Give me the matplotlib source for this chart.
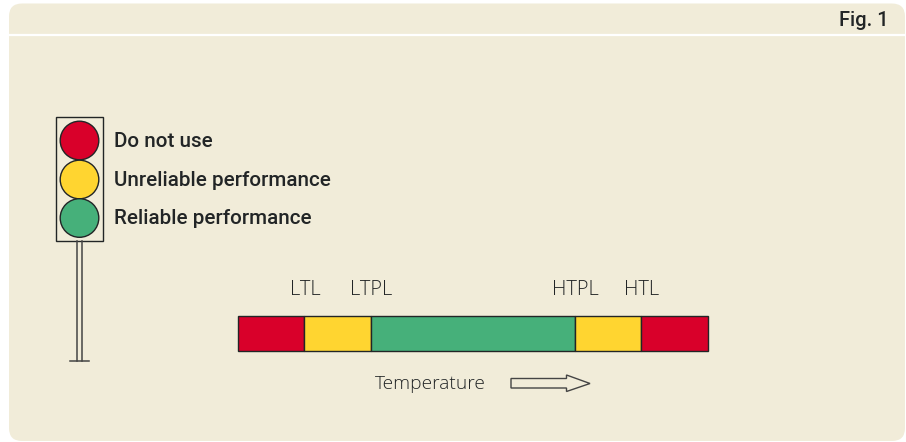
import matplotlib
matplotlib.use("Agg")
import matplotlib.pyplot as plt
from matplotlib.patches import Circle, FancyBboxPatch, Polygon, Rectangle

# legend of the traffic light
light_labels = ["Do not use", "Unreliable performance", "Reliable performance"]
light_colors = ["#d9002a", "#ffd530", "#46b07a"]
light_y = [140.5, 179.5, 218]

# temperature bar, edges in picture units
band_edges = [237.8, 304.2, 370.7, 574.7, 641, 708]
band_colors = ["#d9002a", "#ffd530", "#46b07a", "#ffd530", "#d9002a"]
limit_labels = ["LTL", "LTPL", "HTPL", "HTL"]

panel = "#f1ecd9"
ink = "#222526"

fig = plt.figure(figsize=(9.06, 4.42), dpi=100)
ax = fig.add_axes([0, 0, 1, 1])
ax.set_xlim(0, 906)
ax.set_ylim(442, 0)
ax.axis("off")

# background panel with rounded corners
ax.add_patch(FancyBboxPatch((21, 15.5), 872, 413.5, boxstyle="round,pad=12,rounding_size=13",
                            fc=panel, ec="none"))
ax.plot([9, 905], [35, 35], color="white", lw=1.6, solid_capstyle="butt")
ax.text(888.5, 21, "Fig. 1", family="Roboto", weight="medium", fontsize=14.4, color=ink,
        ha="right", va="center")

# traffic light
ax.add_patch(Rectangle((56.3, 117), 46.5, 123.5, fc=panel, ec=ink, lw=1))
for y, c, lab in zip(light_y, light_colors, light_labels):
    ax.add_patch(Circle((79.5, y), 19.3, fc=c, ec=ink, lw=1))
    ax.text(114, y + 1, lab, family="Roboto", weight="medium", fontsize=14.9, color=ink,
            ha="left", va="center")
ax.plot([77, 77], [240.5, 361], color="#444444", lw=1.1)
ax.plot([82, 82], [240.5, 361], color="#444444", lw=1.1)
ax.plot([69.5, 88.5], [361, 361], color="#444444", lw=1.1)

# temperature bar
for i, c in enumerate(band_colors):
    ax.add_patch(Rectangle((band_edges[i], 316), band_edges[i + 1] - band_edges[i], 35,
                           fc=c, ec=ink, lw=1))
for x, lab in zip(band_edges[1:5], limit_labels):
    ax.text(x + 0.8, 290, lab, family="Open Sans", weight="light", fontsize=14.4, color=ink,
            ha="center", va="center")

ax.text(430, 384, "Temperature", family="Open Sans", weight="light", fontsize=13.8, color=ink,
        ha="center", va="center")
ax.add_patch(Polygon([(511, 378.5), (566.5, 378.5), (566.5, 375), (590, 383.5),
                      (566.5, 391.5), (566.5, 388), (511, 388)],
                     closed=True, fc=panel, ec="#444444", lw=1))

fig.savefig("out.png", dpi=100)
